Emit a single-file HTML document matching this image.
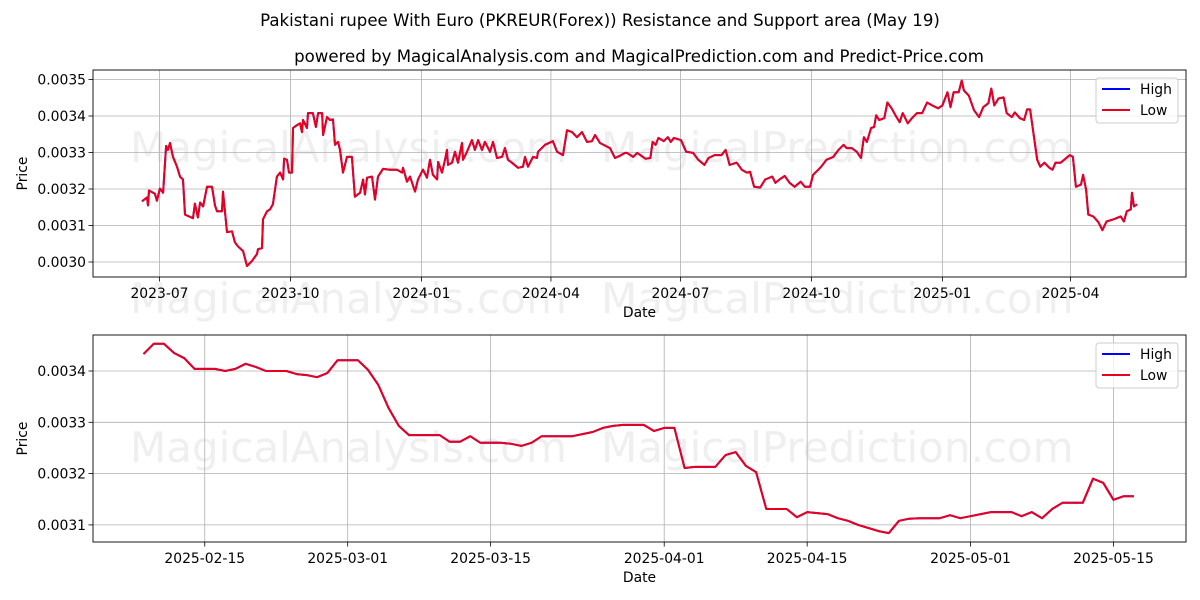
<!DOCTYPE html>
<html><head><meta charset="utf-8">
<style>
html,body{margin:0;padding:0;background:#fff;}
svg{display:block;font-family:"DejaVu Sans","Liberation Sans",sans-serif;}
</style></head>
<body>
<svg id="chart" width="1200" height="600" viewBox="0 0 1200 600" xmlns="http://www.w3.org/2000/svg">
<rect width="1200" height="600" fill="#fff"/>
<text x="600" y="26" font-size="16.6" text-anchor="middle" fill="#000">Pakistani rupee With Euro (PKREUR(Forex)) Resistance and Support area (May 19)</text>
<text x="639" y="62" font-size="16.6" text-anchor="middle" fill="#000">powered by MagicalAnalysis.com and MagicalPrediction.com and Predict-Price.com</text>
<g id="wm" font-size="42" fill="#d8d8d8" fill-opacity="0.4">
<text x="130" y="162">MagicalAnalysis.com</text><text x="601" y="162">MagicalPrediction.com</text>
<text x="130" y="313">MagicalAnalysis.com</text><text x="601" y="313">MagicalPrediction.com</text>
<text x="130" y="462">MagicalAnalysis.com</text><text x="601" y="462">MagicalPrediction.com</text>
</g>
<g id="top"></g>
<g id="bot"></g>
</svg>
<script>
// ---- top chart data (days since 2023-06-18, values) ----
const topBaseDate = "2023-06-18";
const topDays = [0.7,4.2,4.9,5.6,9.8,11.2,13.3,15.5,17.6,19.0,20.4,22.5,25.3,27.4,29.5,30.9,36.5,37.9,40.0,41.5,43.6,46.4,49.9,52.0,53.4,56.9,57.6,60.4,63.9,66.0,68.1,71.7,74.5,78.0,81.5,82.2,85.0,85.7,88.5,90.6,92.7,95.5,97.7,99.8,100.5,102.6,104.0,106.1,106.8,109.6,111.7,113.1,113.8,116.6,117.3,120.8,122.9,124.4,127.2,127.9,130.7,132.8,134.9,136.3,138.4,139.8,141.9,144.7,146.8,148.2,150.3,153.9,156.0,157.4,158.8,162.3,164.4,166.5,170.0,174.9,179.9,183.4,184.1,186.9,189.0,192.5,194.6,198.1,200.9,203.0,205.1,208.0,208.7,211.5,213.6,215.0,215.7,218.5,220.6,222.7,225.5,226.2,229.0,232.5,234.6,236.8,239.6,241.7,245.2,247.3,250.1,253.6,255.7,257.8,260.6,264.9,268.4,269.8,271.9,275.4,278.2,278.9,283.8,289.4,292.3,296.5,299.3,302.8,306.3,309.8,313.3,316.8,319.0,322.5,329.5,333.0,336.5,340.0,341.5,345.8,348.6,354.4,357.9,359.4,361.5,363.6,367.2,370.1,372.2,374.4,379.4,383.0,387.9,391.5,395.8,398.7,403.0,407.8,410.7,413.5,418.5,422.1,425.7,427.9,430.7,435.0,438.5,443.5,445.7,448.6,452.2,455.7,459.2,463.5,466.4,470.0,472.2,475.8,477.9,481.5,486.4,490.0,493.6,495.7,499.3,502.9,505.8,507.9,510.0,512.9,515.0,516.5,518.6,522.2,524.4,527.3,530.8,533.0,535.1,538.7,541.6,545.2,548.8,552.3,555.8,560.1,563.0,566.6,568.7,570.9,574.5,576.6,578.1,581.6,585.2,588.8,591.7,595.3,597.4,599.5,602.4,606.0,608.2,611.8,613.9,617.5,620.4,622.5,624.6,629.6,631.8,634.7,638.2,640.4,642.5,646.1,652.5,654.7,656.8,660.4,661.9,664.0,665.5,669.0,672.6,675.4,678.3,683.3,688.3,690.5,692.6,695.4,696.2,697.6,699.7];
const topLow = [3166,3177,3155,3196,3187,3168,3201,3190,3318,3307,3326,3288,3261,3234,3226,3130,3120,3160,3122,3163,3152,3206,3206,3155,3139,3139,3193,3082,3084,3054,3043,3030,2989,3003,3022,3035,3038,3117,3139,3144,3158,3234,3245,3226,3283,3280,3245,3245,3367,3375,3380,3356,3389,3367,3408,3408,3370,3408,3408,3348,3397,3389,3391,3321,3329,3307,3245,3288,3288,3288,3179,3190,3226,3185,3231,3234,3171,3234,3255,3253,3253,3245,3258,3220,3234,3193,3226,3253,3231,3280,3239,3226,3274,3245,3280,3307,3266,3272,3302,3272,3326,3280,3302,3334,3307,3334,3307,3329,3302,3329,3285,3288,3312,3280,3272,3258,3261,3288,3261,3288,3285,3302,3321,3331,3302,3293,3361,3356,3342,3356,3329,3331,3348,3326,3312,3285,3291,3299,3299,3288,3299,3283,3285,3329,3321,3340,3331,3342,3329,3340,3334,3302,3299,3280,3266,3285,3293,3293,3307,3266,3272,3253,3245,3247,3206,3204,3226,3234,3217,3226,3236,3217,3206,3220,3206,3206,3239,3253,3261,3280,3288,3307,3321,3312,3312,3302,3285,3342,3329,3367,3370,3402,3389,3394,3437,3421,3397,3383,3408,3380,3394,3408,3408,3437,3429,3421,3429,3465,3424,3465,3465,3497,3470,3456,3416,3397,3424,3435,3475,3429,3448,3451,3408,3397,3410,3394,3389,3418,3418,3280,3261,3272,3258,3253,3272,3272,3293,3288,3206,3212,3239,3198,3130,3125,3109,3087,3111,3117,3125,3111,3139,3144,3190,3152,3158].map(v=>v*1e-6);
const topHigh = topLow.slice();
const topXTicks = ["2023-07-01","2023-10-01","2024-01-01","2024-04-01","2024-07-01","2024-10-01","2025-01-01","2025-04-01"];
const topXLabels = ["2023-07","2023-10","2024-01","2024-04","2024-07","2024-10","2025-01","2025-04"];
const topYTicks = [0.0030,0.0031,0.0032,0.0033,0.0034,0.0035];
// ---- bottom chart data (daily from 2025-02-09) ----
const botBaseDate = "2025-02-09";
const botLow = [3433,3453,3453,3435,3425,3404,3404,3404,3400,3404,3414,3408,3400,3400,3400,3394,3392,3388,3396,3421,3421,3421,3402,3373,3328,3293,3275,3275,3275,3275,3262,3262,3273,3260,3260,3260,3258,3254,3260,3273,3273,3273,3273,3277,3281,3289,3293,3295,3295,3295,3283,3289,3289,3211,3213,3213,3213,3236,3242,3215,3203,3131,3131,3131,3115,3125,3123,3121,3113,3108,3100,3094,3088,3084,3108,3112,3113,3113,3113,3119,3113,3117,3121,3125,3125,3125,3117,3125,3113,3131,3143,3143,3143,3190,3182,3149,3156,3156].map(v=>v*1e-6);
const botHigh = botLow.slice();
const botXTicks = ["2025-02-15","2025-03-01","2025-03-15","2025-04-01","2025-04-15","2025-05-01","2025-05-15"];
const botXLabels = ["2025-02-15","2025-03-01","2025-03-15","2025-04-01","2025-04-15","2025-05-01","2025-05-15"];
const botYTicks = [0.0031,0.0032,0.0033,0.0034];

const NS="http://www.w3.org/2000/svg";
const FS=13.9;
function mk(parent,tag,attrs){const e=document.createElementNS(NS,tag);for(const k in attrs)e.setAttribute(k,attrs[k]);parent.appendChild(e);return e;}
function dayNum(s){const p=s.split("-").map(Number);return Date.UTC(p[0],p[1]-1,p[2])/86400000;}

function panel(g,cfg){
  const {L,R,T,B}=cfg;
  const xs=d=>cfg.x0+d*cfg.pxDay;
  const ys=v=>cfg.yRef+(cfg.vRef-v)/0.0001*cfg.pxTenth;
  cfg.xTicks.forEach((t,i)=>{
    const x=xs(dayNum(t)-dayNum(cfg.base));
    const gl=mk(g,"line",{x1:x,x2:x,y1:T,y2:B,stroke:"#b0b0b0","stroke-width":0.8});
    
    
    mk(g,"line",{x1:x,x2:x,y1:B,y2:B+4.5,stroke:"#000","stroke-width":0.8});
    const tx=mk(g,"text",{x:x,y:B+21,"font-size":FS,"text-anchor":"middle",fill:"#000"});
    tx.textContent=cfg.xLabels[i];
    
    
  });
  cfg.yTicks.forEach((v,i)=>{
    const y=ys(v);
    const gl=mk(g,"line",{x1:L,x2:R,y1:y,y2:y,stroke:"#b0b0b0","stroke-width":0.8});
    
    
    mk(g,"line",{x1:L-4.5,x2:L,y1:y,y2:y,stroke:"#000","stroke-width":0.8});
    const tx=mk(g,"text",{x:L-7,y:y+5,"font-size":FS,"text-anchor":"end",fill:"#000"});
    tx.textContent=v.toFixed(4);
    
    
  });
  const pts=(vals,days)=>vals.map((v,i)=>xs(days?days[i]:i).toFixed(1)+","+ys(v).toFixed(1)).join(" ");
  const hi=mk(g,"polyline",{points:pts(cfg.high,cfg.days),fill:"none",stroke:"#0000ff","stroke-width":2,"stroke-linejoin":"round"});
  
  
  const lo=mk(g,"polyline",{points:pts(cfg.low,cfg.days),fill:"none",stroke:"#e8001c","stroke-width":2,"stroke-linejoin":"round"});
  
  
  const fr=mk(g,"rect",{x:L,y:T,width:R-L,height:B-T,fill:"none",stroke:"#000","stroke-width":0.9});
  
  
  const xl=mk(g,"text",{x:(L+R)/2,y:B+40,"font-size":FS,"text-anchor":"middle"});
  xl.textContent="Date";
  
  
  const yl=mk(g,"text",{x:0,y:0,"font-size":FS,"text-anchor":"middle",transform:`translate(27,${(T+B)/2}) rotate(-90)`});
  yl.textContent="Price";
  
  
  const lg=mk(g,"g",{});
  
  
  const lx=R-90, ly=T+8;
  mk(lg,"rect",{x:lx,y:ly,width:82,height:45,rx:3,fill:"#fff","fill-opacity":0.8,stroke:"#ccc"});
  [["High","#0000ff"],["Low","#e8001c"]].forEach((e,i)=>{
    const it=mk(lg,"g",{});
    
    
    mk(it,"line",{x1:lx+6,x2:lx+34,y1:ly+11+i*21,y2:ly+11+i*21,stroke:e[1],"stroke-width":2});
    const t=mk(it,"text",{x:lx+44,y:ly+16+i*21,"font-size":FS});
    t.textContent=e[0];
  });
}
panel(document.getElementById("top"),{L:93,R:1186,T:70,B:277,x0:141,pxDay:1.4234,base:topBaseDate,yRef:262,vRef:0.0030,pxTenth:36.5,
  xTicks:topXTicks,xLabels:topXLabels,yTicks:topYTicks,low:topLow,high:topHigh,days:topDays});
panel(document.getElementById("bot"),{L:93,R:1186,T:335,B:542,x0:143.5,pxDay:10.21,base:botBaseDate,yRef:371,vRef:0.0034,pxTenth:51.3,
  xTicks:botXTicks,xLabels:botXLabels,yTicks:botYTicks,low:botLow,high:botHigh,days:null});
</script>
</body></html>
